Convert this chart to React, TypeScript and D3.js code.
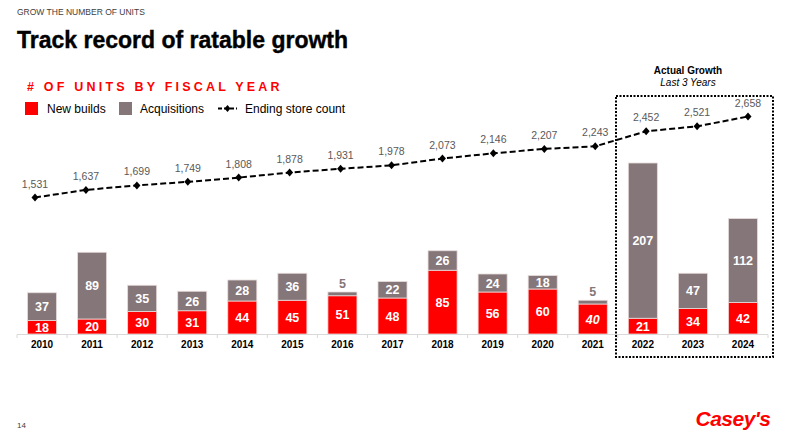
import React from "react";
import * as d3 from "d3";

const years = ["2010","2011","2012","2013","2014","2015","2016","2017","2018","2019","2020","2021","2022","2023","2024"];
const newBuilds = [18,20,30,31,44,45,51,48,85,56,60,40,21,34,42];
const acquisitions = [37,89,35,26,28,36,5,22,26,24,18,5,207,47,112];
const endingStores = [1531,1637,1699,1749,1808,1878,1931,1978,2073,2146,2207,2243,2452,2521,2658];

const RED = "#FF0000";
const GRAY = "#857679";
const LABEL_GRAY = "#595959";
const FONT = "Liberation Sans, Arial, sans-serif";

export default function App() {
  const W = 800, H = 443;
  const x = d3.scaleBand<string>().domain(years).range([17, 768]).paddingInner(0.42).paddingOuter(0.21);
  const xOuter = d3.scaleBand<string>().domain(years).range([17, 768]);
  const xLine = d3.scalePoint<string>().domain(years).range([35, 748]);
  const yBar = d3.scaleLinear().domain([0, 228]).range([334, 163]);
  const yLine = d3.scaleLinear().domain([1531, 2658]).range([197.5, 116.5]);
  const cx = (y: string) => (x(y) as number) + x.bandwidth() / 2;
  const line = d3.line<number>().x((_, i) => xLine(years[i]) as number).y(d => yLine(d));
  const fmt = d3.format(",");

  return (
    <svg width={W} height={H} style={{ position: "absolute", left: 0, top: 0, background: "#fff" }} fontFamily={FONT}>
      <text x={17} y={15} fontSize={8.5} fill="#404040">GROW THE NUMBER OF UNITS</text>
      <text x={17} y={48} fontSize={23} fontWeight="bold" fill="#000" letterSpacing={0} stroke="#000" strokeWidth={0.4}>Track record of ratable growth</text>
      <text x={27} y={91} fontSize={12.5} fontWeight="bold" fill={RED} letterSpacing={3.2}># OF UNITS BY FISCAL YEAR</text>
      {/* legend */}
      <rect x={25} y={102} width={13} height={13} fill={RED} />
      <text x={47} y={113} fontSize={12} fill="#000">New builds</text>
      <rect x={119} y={102} width={13} height={13} fill={GRAY} />
      <text x={140} y={113} fontSize={12} fill="#000">Acquisitions</text>
      <line x1={218} x2={237} y1={108.5} y2={108.5} stroke="#000" strokeWidth={2} strokeDasharray="4,2" />
      <path d="M 227.5 105 L 230.5 108.5 L 227.5 112 L 224.5 108.5 Z" fill="#000" />
      <text x={245} y={113} fontSize={12} fill="#000">Ending store count</text>

      {/* actual growth */}
      <text x={688} y={74} fontSize={10} fontWeight="bold" textAnchor="middle" fill="#000">Actual Growth</text>
      <text x={688} y={86} fontSize={10} fontStyle="italic" textAnchor="middle" fill="#000">Last 3 Years</text>
      <rect x={616} y={96} width={157} height={261} fill="none" stroke="#000" strokeWidth={2} strokeDasharray="2,1.5" />

      {/* bars */}
      {years.map((yr, i) => {
        const bx = x(yr) as number;
        const bw = x.bandwidth();
        const nb = newBuilds[i], aq = acquisitions[i];
        const y0 = yBar(0), y1 = yBar(nb), y2 = yBar(nb + aq);
        const small = aq < 10;
        return (
          <g key={yr}>
            <rect x={bx} y={y1} width={bw} height={y0 - y1} fill={RED} stroke="#f3d6d6" strokeWidth={0.8} />
            <rect x={bx} y={y2} width={bw} height={y1 - y2} fill={GRAY} stroke="#e8dcdc" strokeWidth={0.8} />
            <text x={cx(yr)} y={(y0 + y1) / 2 + 4.5} fontSize={12.5} fontWeight="bold" fill="#fff" textAnchor="middle" fontStyle={yr === "2021" ? "italic" : "normal"}>{nb}</text>
            {small ? (
              <text x={cx(yr)} y={y2 - 4} fontSize={12.5} fontWeight="bold" fill={GRAY} textAnchor="middle">{aq}</text>
            ) : (
              <text x={cx(yr)} y={(y1 + y2) / 2 + 4.5} fontSize={12.5} fontWeight="bold" fill="#fff" textAnchor="middle">{aq}</text>
            )}
          </g>
        );
      })}

      {/* axis */}
      <line x1={17} x2={768} y1={334.5} y2={334.5} stroke="#d9d9d9" strokeWidth={1} />
      {years.map((yr) => (
        <line key={"t" + yr} x1={(xOuter(yr) as number)} x2={(xOuter(yr) as number)} y1={334.5} y2={338} stroke="#d9d9d9" />
      ))}
      <line x1={768} x2={768} y1={334.5} y2={338} stroke="#d9d9d9" />
      {years.map((yr) => (
        <text key={"l" + yr} x={cx(yr)} y={348} fontSize={10} fontWeight="bold" textAnchor="middle" fill="#000">{yr}</text>
      ))}

      {/* line */}
      <path d={line(endingStores) || ""} fill="none" stroke="#000" strokeWidth={2} strokeDasharray="6,3" />
      {endingStores.map((v, i) => {
        const px = xLine(years[i]) as number, py = yLine(v);
        return (
          <g key={"p" + i}>
            <path d={`M ${px} ${py - 4} L ${px + 3.5} ${py} L ${px} ${py + 4} L ${px - 3.5} ${py} Z`} fill="#000" />
            <text x={px} y={py - 10} fontSize={10.5} fill={LABEL_GRAY} textAnchor="middle">{fmt(v)}</text>
          </g>
        );
      })}

      {/* footer */}
      <text x={17} y={428} fontSize={8} fill="#404040">14</text>
      <text x={733} y={426} fontSize={21} fontWeight="bold" fontStyle="italic" fill={RED} textAnchor="middle" fontFamily="Liberation Sans Narrow, Arial Narrow, sans-serif" letterSpacing={-0.5}>Casey's</text>
    </svg>
  );
}
